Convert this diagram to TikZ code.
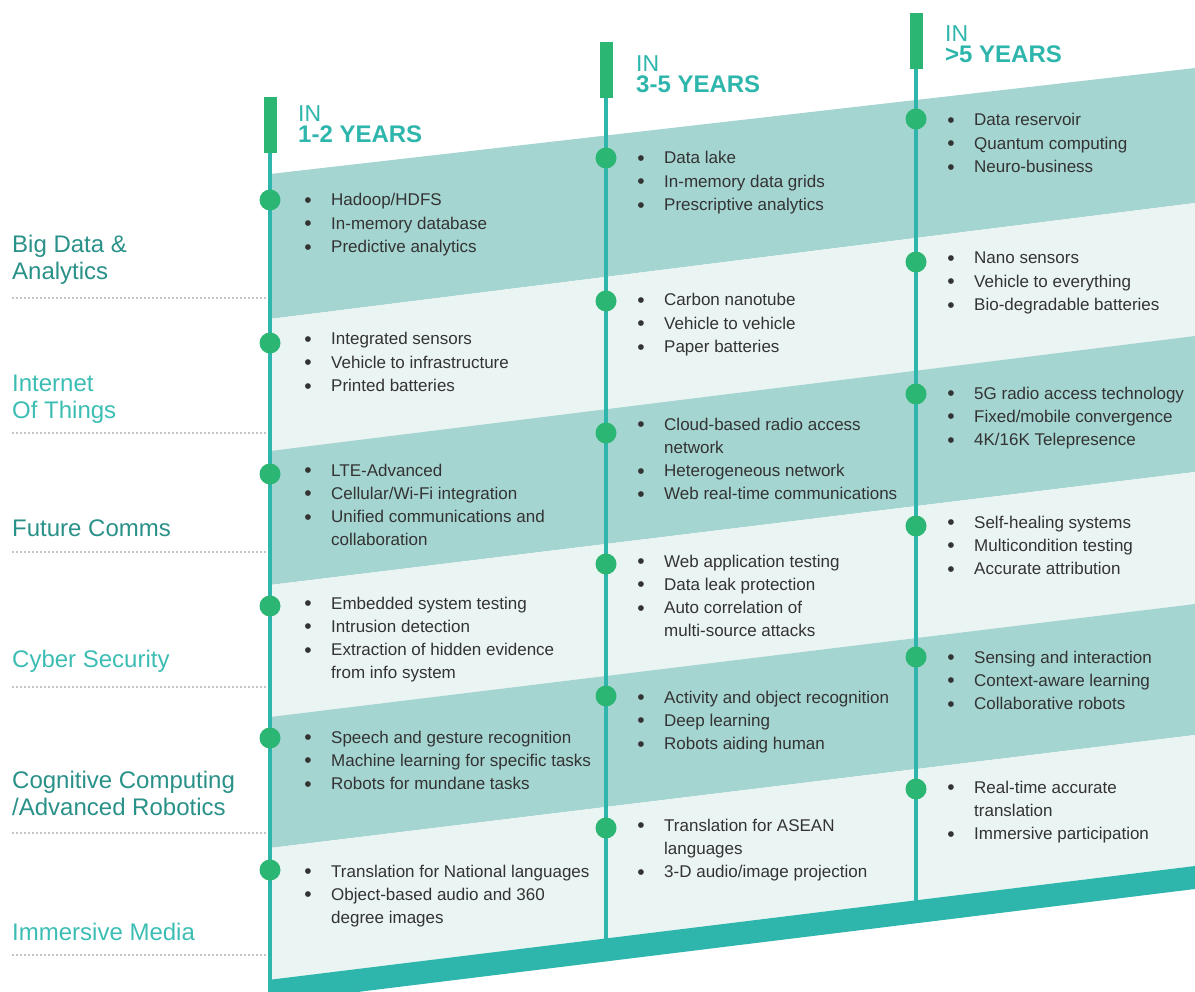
\documentclass[tikz,border=0pt]{standalone}
\usepackage{fontspec}
\setmainfont{Liberation Sans}
\definecolor{teal}{HTML}{2EB5AC}
\definecolor{grn}{HTML}{2BB673}
\definecolor{bandD}{HTML}{A5D5D1}
\definecolor{bandL}{HTML}{EAF4F2}
\definecolor{labD}{HTML}{2A9189}
\definecolor{labL}{HTML}{3CBDB4}
\definecolor{txt}{HTML}{333333}
\definecolor{dotg}{HTML}{8A8A8A}
\newcommand\rmItem[1]{\makebox[26pt][l]{\hspace*{-0.8pt}\raisebox{-1.6pt}{\fontsize{21}{21}\selectfont\textbullet}}#1}
\newcommand\rmCont[1]{\hspace*{26pt}#1}
\begin{document}
\begin{tikzpicture}[x=1pt,y=-1pt,
  item/.style={anchor=base west, inner sep=0pt, align=left, text=txt, font=\fontsize{17}{23.3}\selectfont},
  lab/.style={anchor=base west, inner sep=0pt, align=left, font=\fontsize{24}{27}\selectfont},
  hdr/.style={anchor=base west, inner sep=0pt, align=left, text=teal, font=\fontsize{23}{21}\selectfont},
  bar/.style={fill=grn, inner sep=0pt, minimum width=13pt, minimum height=56pt},
  dotn/.style={circle, fill=grn, inner sep=0pt, minimum size=21pt},
  vline/.style={draw=teal, line width=4pt},
  sep/.style={draw=dotg, line width=1.7pt, dash pattern=on 0pt off 4pt, line cap=round}
]
\useasboundingbox (0,0) rectangle (1195,992);
% bands
\fill[bandD] (270,174) -- (1195,68) -- (1195,203) -- (270,319) -- cycle;
\fill[bandL] (270,319) -- (1195,203) -- (1195,336) -- (270,451) -- cycle;
\fill[bandD] (270,451) -- (1195,336) -- (1195,472) -- (270,585) -- cycle;
\fill[bandL] (270,585) -- (1195,472) -- (1195,604) -- (270,717) -- cycle;
\fill[bandD] (270,717) -- (1195,604) -- (1195,735) -- (270,848) -- cycle;
\fill[bandL] (270,848) -- (1195,735) -- (1195,866) -- (270,980) -- cycle;
% bottom strip
\fill[teal] (268,980) -- (1195,866) -- (1195,889) -- (268,1003) -- cycle;
% bars
\node[bar] (bar1) at (270,125) {};
\node[bar] (bar2) at (606,70) {};
\node[bar] (bar3) at (916,41) {};
\coordinate (end1) at (270,992);
\coordinate (end2) at (606,942);
\coordinate (end3) at (916,903);
\draw[vline] (bar1.south) -- (end1);
\draw[vline] (bar2.south) -- (end2);
\draw[vline] (bar3.south) -- (end3);
% headers (anchor = baseline of last line)
\node[hdr] (h1) at (298,143) {IN\\{\fontsize{24}{21}\selectfont\bfseries 1-2 YEARS}};
\node[hdr] (h2) at (636,93) {IN\\{\fontsize{24}{21}\selectfont\bfseries 3-5 YEARS}};
\node[hdr] (h3) at (945,63) {IN\\{\fontsize{24}{21}\selectfont\bfseries >5 YEARS}};
% dots
\foreach \y [count=\i] in {200,343,474,606,738,870} \node[dotn] (d1-\i) at (270,\y) {};
\foreach \y [count=\i] in {158,301,433,564,696,828} \node[dotn] (d2-\i) at (606,\y) {};
\foreach \y [count=\i] in {119,262,394,526,657,789} \node[dotn] (d3-\i) at (916,\y) {};
% left labels (anchor = baseline of last line)
\node[lab, text=labD] (l1) at (12,280) {Big Data \&\\Analytics};
\node[lab, text=labL] (l2) at (12,418) {Internet\\Of Things};
\node[lab, text=labD] (l3) at (12,536) {Future Comms};
\node[lab, text=labL] (l4) at (12,667) {Cyber Security};
\node[lab, text=labD] (l5) at (12,815) {Cognitive Computing\\/Advanced Robotics};
\node[lab, text=labL] (l6) at (12,940) {Immersive Media};
\foreach \y [count=\i] in {298,433,552,687,833,955} {
  \coordinate (sa\i) at (13,\y);
  \coordinate (sb\i) at (267,\y);
  \draw[sep] (sa\i) -- (sb\i);
}
% column 1 (anchor = baseline of last line)
\node[item] (g11) at (305,252.6) {\rmItem{Hadoop/HDFS}\\\rmItem{In-memory database}\\\rmItem{Predictive analytics}};
\node[item] (g12) at (305,391.6) {\rmItem{Integrated sensors}\\\rmItem{Vehicle to infrastructure}\\\rmItem{Printed batteries}};
\node[item] (g13) at (305,545.9) {\rmItem{LTE-Advanced}\\\rmItem{Cellular/Wi-Fi integration}\\\rmItem{Unified communications and}\\\rmCont{collaboration}};
\node[item] (g14) at (305,678.9) {\rmItem{Embedded system testing}\\\rmItem{Intrusion detection}\\\rmItem{Extraction of hidden evidence}\\\rmCont{from info system}};
\node[item] (g15) at (305,789.6) {\rmItem{Speech and gesture recognition}\\\rmItem{Machine learning for specific tasks}\\\rmItem{Robots for mundane tasks}};
\node[item] (g16) at (305,923.6) {\rmItem{Translation for National languages}\\\rmItem{Object-based audio and 360}\\\rmCont{degree images}};
% column 2
\node[item] (g21) at (638,210.6) {\rmItem{Data lake}\\\rmItem{In-memory data grids}\\\rmItem{Prescriptive analytics}};
\node[item] (g22) at (638,352.6) {\rmItem{Carbon nanotube}\\\rmItem{Vehicle to vehicle}\\\rmItem{Paper batteries}};
\node[item] (g23) at (638,499.9) {\rmItem{Cloud-based radio access}\\\rmCont{network}\\\rmItem{Heterogeneous network}\\\rmItem{Web real-time communications}};
\node[item] (g24) at (638,636.9) {\rmItem{Web application testing}\\\rmItem{Data leak protection}\\\rmItem{Auto correlation of}\\\rmCont{multi-source attacks}};
\node[item] (g25) at (638,749.6) {\rmItem{Activity and object recognition}\\\rmItem{Deep learning}\\\rmItem{Robots aiding human}};
\node[item] (g26) at (638,877.6) {\rmItem{Translation for ASEAN}\\\rmCont{languages}\\\rmItem{3-D audio/image projection}};
% column 3
\node[item] (g31) at (948,172.6) {\rmItem{Data reservoir}\\\rmItem{Quantum computing}\\\rmItem{Neuro-business}};
\node[item] (g32) at (948,310.6) {\rmItem{Nano sensors}\\\rmItem{Vehicle to everything}\\\rmItem{Bio-degradable batteries}};
\node[item] (g33) at (948,445.6) {\rmItem{5G radio access technology}\\\rmItem{Fixed/mobile convergence}\\\rmItem{4K/16K Telepresence}};
\node[item] (g34) at (948,574.6) {\rmItem{Self-healing systems}\\\rmItem{Multicondition testing}\\\rmItem{Accurate attribution}};
\node[item] (g35) at (948,709.6) {\rmItem{Sensing and interaction}\\\rmItem{Context-aware learning}\\\rmItem{Collaborative robots}};
\node[item] (g36) at (948,839.6) {\rmItem{Real-time accurate}\\\rmCont{translation}\\\rmItem{Immersive participation}};
\end{tikzpicture}
\end{document}
